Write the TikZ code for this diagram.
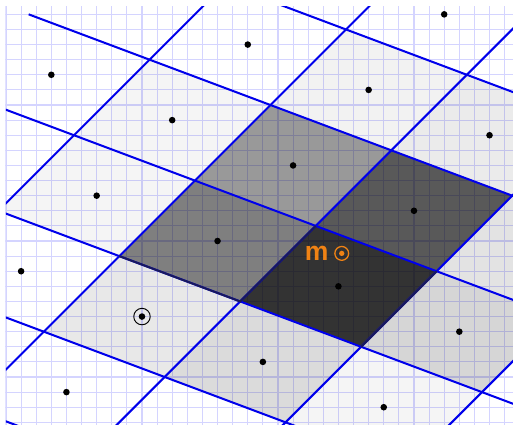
\documentclass[tikz,border=0pt]{standalone}
\usepackage{fontspec}
\newfontfamily\labelfont{Liberation Sans}
\definecolor{gridc}{RGB}{212,212,255}
\definecolor{linec}{RGB}{0,0,235}
\definecolor{darkline}{RGB}{25,25,95}
\definecolor{morange}{RGB}{240,130,20}
\begin{document}
\begin{tikzpicture}[x=0.5cm,y=0.5cm,
  gridline/.style={draw=gridc, line width=1pt},
  cellline/.style={draw=linec, line width=1.9pt},
  darkseg/.style={draw=darkline, line width=1.9pt},
  dot/.style={circle, fill=black, inner sep=0pt, minimum size=6.2pt},
  ring/.style={circle, draw=black, line width=0.9pt, inner sep=0pt, minimum size=15.5pt},
  msym/.style={circle, draw=morange, line width=1.2pt, inner sep=0pt, minimum size=13pt},
  mlab/.style={text=morange, inner sep=0pt, anchor=base, font=\labelfont\bfseries\fontsize{25}{25}\selectfont}]
\useasboundingbox (-0.397,-0.1125) rectangle (33.554,27.95);
\begin{scope}
  \clip (-0.04,-0.1125) rectangle (33.554,27.55);
  % background grid
  \foreach \i in {0,...,33} \draw[gridline] (\i,-1) -- (\i,28);
  \foreach \j in {0,...,27} \draw[gridline] (-1,\j) -- (34,\j);
  % shaded cells
  \foreach \cx/\cy/\a in {22/9/0.8, 27/14/0.65, 14/12/0.5, 19/17/0.4, 30/6/0.16,
      17/4/0.14, 35/11/0.11, 9/7/0.09, 32/19/0.08, 24/22/0.05, 11/20/0.04,
      6/15/0.04, 25/1/0.04}
    \fill[black, fill opacity=\a] ({\cx-6.5},{\cy-1}) -- ++(5,5) -- ++(8,-3) -- ++(-5,-5) -- cycle;
  % cell boundaries
  \begin{scope}
  \clip (0,-0.1125) rectangle (33.554,27.55);
  \foreach \d in {-14.5,-3.5,7.5,18.5,29.5}
    \draw[cellline] ({\d-5},-5) -- ({\d+35},35);
  \foreach \e in {0.5,55.5,110.5,165.5,275.5}
    \draw[cellline] (-8,{(\e+24)/8}) -- (40,{(\e-120)/8});
  \draw[cellline] (1.5,27) -- (41.5,12);
  \draw[darkseg] (7.5,11) -- (15.5,8) -- (20.5,13);
  \draw[darkseg] (23.5,5) -- (28.5,10);
  \end{scope}
\end{scope}
% lattice points
\node[dot] (d1) at (3,23) {};
\node[dot] (d2) at (16,25) {};
\node[dot] (d3) at (29,27) {};
\node[dot] (d4) at (11,20) {};
\node[dot] (d5) at (24,22) {};
\node[dot] (d6) at (32,19) {};
\node[dot] (d7) at (6,15) {};
\node[dot] (d8) at (19,17) {};
\node[dot] (d9) at (14,12) {};
\node[dot] (d10) at (27,14) {};
\node[dot] (d11) at (1,10) {};
\node[dot] (d12) at (22,9) {};
\node[dot] (d13) at (9,7) {};
\node[dot] (d14) at (30,6) {};
\node[dot] (d15) at (17,4) {};
\node[dot] (d16) at (4,2) {};
\node[dot] (d17) at (25,1) {};
\node[ring] (origin) at (d13) {};
% m marker
\node[msym] (msymbol) at (22.22,11.18) {};
\fill[morange] (msymbol.center) circle (2.5pt);
\node[mlab] (mlabel) at (20.56,10.74) {m};
\end{tikzpicture}
\end{document}
